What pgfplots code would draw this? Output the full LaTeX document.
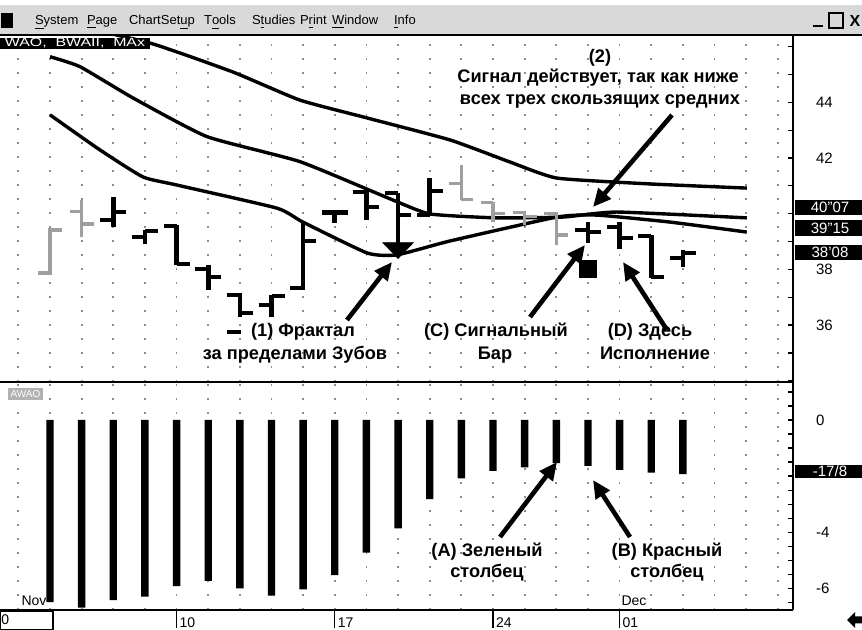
\documentclass[border=0pt]{standalone}
\usepackage{pgfplots}
\pgfplotsset{compat=1.18}
\usepackage{pgfplotstable}
\usepackage{graphicx}
\usepackage{fontspec}
\setmainfont{Liberation Sans}
\usetikzlibrary{arrows.meta}

% open tick to the left, close tick to the right
\pgfdeclareplotmark{openL}{\pgfpathmoveto{\pgfqpoint{-\pgfplotmarksize}{0pt}}\pgfpathlineto{\pgfqpoint{0pt}{0pt}}\pgfusepathqstroke}
\pgfdeclareplotmark{closeR}{\pgfpathmoveto{\pgfqpoint{\pgfplotmarksize}{0pt}}\pgfpathlineto{\pgfqpoint{0pt}{0pt}}\pgfusepathqstroke}

\pgfplotstableread{
i o h l c
2 39.77 40.61 39.53 40.05
3 39.15 39.41 38.91 39.39
4 39.56 39.59 38.16 38.19
5 38.01 38.16 37.26 37.74
6 37.08 37.14 36.30 36.42
7 36.72 37.08 36.30 37.05
8 37.32 39.71 37.26 39.03
9 40.04 40.13 39.66 40.04
10 40.79 40.91 39.77 40.25
11 40.73 40.73 38.52 39.95
12 39.95 41.28 39.95 40.83
17 39.41 39.71 38.94 39.35
18 39.53 39.71 38.72 39.12
19 39.20 39.23 37.68 37.74
20 38.40 38.70 38.10 38.58
}\darkbars

\pgfplotstableread{
i o h l c
0 37.87 39.49 37.80 39.41
1 40.07 40.49 39.16 39.63
13 41.09 41.75 40.49 40.52
14 40.40 40.43 39.71 40.01
15 40.04 40.10 39.59 39.89
16 40.01 40.07 38.88 39.23
}\greybars

\pgfplotstableread{
i v
0 -6.49
1 -6.69
2 -6.42
3 -6.30
4 -5.92
5 -5.74
6 -6.00
7 -6.26
8 -6.04
9 -5.53
10 -4.73
11 -3.86
12 -2.82
13 -2.08
14 -1.81
15 -1.69
16 -1.54
17 -1.64
18 -1.78
19 -1.88
20 -1.93
}\ao

\pgfplotsset{
  panel/.style={
    scale only axis, anchor=south west, width=396.5pt,
    xmin=-1.58, xmax=23.48,
    axis x line*=bottom, axis y line*=right,
    axis line style={-, line width=1.1pt},
    xtick={-1,0,...,23}, xticklabels={}, xmajorgrids,
    xtick style={draw=none},
    major x grid style={black!45, line width=0.9pt, dash pattern=on 0.9pt off 6.1pt},
    tick align=inside, major tick length=2.5pt,
    ytick style={black, line width=0.6pt},
    yticklabel style={font=\fontsize{7.5}{8}\selectfont, xshift=8pt},
  },
  ohlc/.style 2 args={draw=none, mark=none,
    error bars/y dir=minus, error bars/y explicit, error bars/error mark=none,
    error bars/error bar style={line width=#1, draw=#2, solid}},
}

\newcommand{\ann}{\bfseries\fontsize{9.1}{10}\selectfont}

\begin{document}
\begin{tikzpicture}
\useasboundingbox (0,0) rectangle (431pt,315pt);
\fill[white] (0,0) rectangle (431pt,315pt);

% price panel
\begin{axis}[panel, at={(0pt,124pt)}, height=173.5pt,
  ymin=33.955, ymax=46.42,
  ytick={34,...,46}, yticklabels={,,36,,38,,,,42,,44,,}]
  \addplot[black, line width=1.7pt, smooth, tension=0.3] coordinates {
    (0,46.96) (3.16,46.13) (5.78,45.09) (7.90,44.08) (10.02,43.44) (12.64,42.65)
    (14.53,41.86) (16.02,41.28) (18.96,41.07) (22.02,40.92)};
  \addplot[black, line width=1.7pt, smooth, tension=0.3] coordinates {
    (0,45.64) (0.95,45.28) (2.62,44.16) (4.96,42.77) (7.90,41.87) (10.84,40.49)
    (12.01,39.99) (14.12,39.85) (16.21,39.88) (17.91,40.06) (22.02,39.85)};
  \addplot[black, line width=1.7pt, smooth, tension=0.3] coordinates {
    (0,43.55) (1.58,42.29) (2.94,41.32) (4.01,41.03) (7.17,40.20) (7.99,39.70)
    (10.02,38.59) (10.96,38.52) (12.64,39.02) (16.02,39.88) (17.28,39.95)
    (19.59,39.70) (22.02,39.34)};
  % high-low, open, close
  \addplot[ohlc={2.3pt}{black}] table[x=i, y=h, y error minus expr=\thisrow{h}-\thisrow{l}] {\darkbars};
  \addplot[only marks, mark=openL, mark size=6.5pt, line width=2.1pt, black] table[x=i, y=o] {\darkbars};
  \addplot[only marks, mark=closeR, mark size=6.5pt, line width=2.1pt, black] table[x=i, y=c] {\darkbars};
  \addplot[ohlc={1.7pt}{gray!75}] table[x=i, y=h, y error minus expr=\thisrow{h}-\thisrow{l}] {\greybars};
  \addplot[only marks, mark=openL, mark size=6pt, line width=1.7pt, gray!75] table[x=i, y=o] {\greybars};
  \addplot[only marks, mark=closeR, mark size=6pt, line width=1.7pt, gray!75] table[x=i, y=c] {\greybars};
  % fractal, signal marks
  \addplot[only marks, mark=triangle*, mark size=8.7pt, black,
    mark options={rotate=180, yscale=0.6}] coordinates {(11,38.77)};
  \addplot[only marks, mark=square*, mark size=4.25pt, black] coordinates {(17,38.03)};
  \addplot[only marks, mark=-, mark size=3.5pt, line width=2.2pt, black] coordinates {(5.8,35.76)};
\end{axis}

% oscillator panel
\begin{axis}[panel, at={(0pt,10pt)}, height=114pt,
  ymin=-6.774, ymax=1.355,
  ytick={-6.5,-6,...,1}, yticklabels={,-6,,,,-4,,,,,,,,0,,},
  extra x ticks={4,9,14,18}, extra x tick labels={10,17,24,01},
  extra x tick style={grid=none, tick align=outside, major tick length=9pt,
    xtick style={draw=black, line width=0.6pt},
    xticklabel style={anchor=north west, xshift=-2pt, yshift=8.8pt, font=\fontsize{7}{8}\selectfont}}]
  \addplot[ybar, bar width=3.7pt, fill=black, draw=none] table[x=i, y=v] {\ao};
\end{axis}

\begin{scope}[x=0.5pt, y=-0.5pt, shift={(0pt,315pt)}]
  % menu bar
  \fill[gray!30] (0,5) rectangle (862,34);
  \draw[line width=1.2pt] (0,35) -- (862,35);
  \fill[black] (1,13) rectangle (13,28);
  \begin{scope}[every node/.style={font=\fontsize{6.5}{7}\selectfont, anchor=base west}]
    \node at (28,25) {\underline{S}ystem};
    \node at (80,25) {\underline{P}age};
    \node at (122,25) {ChartSet\underline{u}p};
    \node at (197,25) {T\underline{o}ols};
    \node at (245,25) {S\underline{t}udies};
    \node at (293,25) {P\underline{r}int};
    \node at (325,25) {\underline{W}indow};
    \node at (387,25) {\underline{I}nfo};
  \end{scope}
  \draw[line width=1.2pt] (813,26) -- (823,26);
  \draw[line width=0.8pt] (829,13) rectangle (843,28);
  \node[font=\bfseries\fontsize{8}{8}\selectfont] at (855,21) {X};
  % study labels
  \fill[black] (0,38) rectangle (150,49);
  \node[white] at (75,43.5) {\resizebox{70pt}{4.2pt}{WAO,\ \ BWAII,\ \ MAx}};
  \fill[gray!60] (8,388) rectangle (43,400);
  \node[white, font=\fontsize{5}{5}\selectfont] at (25.5,394) {AWAO};
  % last value boxes
  \fill[black] (795,200) rectangle (862,215);
  \fill[black] (795,220) rectangle (862,236);
  \fill[black] (795,245) rectangle (862,260);
  \fill[black] (795,465) rectangle (862,478);
  \begin{scope}[every node/.style={white, font=\fontsize{7.5}{8}\selectfont}]
    \node at (830,207.5) {40"07};
    \node at (830,228) {39"15};
    \node at (830,252.5) {38'08};
    \node at (830,471.5) {-17/8};
  \end{scope}
  % dates
  \node[font=\fontsize{7}{8}\selectfont] at (34,601) {Nov};
  \node[font=\fontsize{7}{8}\selectfont] at (634,601) {Dec};
  \fill[white] (0,611) rectangle (53,630);
  \draw[line width=0.6pt] (0,611) rectangle (53,630);
  \node[font=\fontsize{7}{8}\selectfont, anchor=west, inner sep=0pt] at (1,620) {0};
  \fill (847,620) -- (855,612) -- (855,616.5) -- (862,616.5) -- (862,623.5) -- (855,623.5) -- (855,628) -- cycle;
  % annotations
  \begin{scope}[every node/.style={font=\ann, anchor=base}]
    \node at (600,63) {(2)};
    \node at (598,83) {Сигнал действует, так как ниже};
    \node at (600,105) {всех трех скользящих средних};
    \node at (303,337) {(1) Фрактал};
    \node at (295,360) {за пределами Зубов};
    \node at (496,337) {(C) Сигнальный};
    \node at (495,360) {Бар};
    \node at (650,337) {(D) Здесь};
    \node at (655,360) {Исполнение};
    \node at (487,557) {(A) Зеленый};
    \node at (487,578) {столбец};
    \node at (667,557) {(B) Красный};
    \node at (667,578) {столбец};
  \end{scope}
  \begin{scope}[line width=2.3pt, -{Triangle[length=9pt, width=8pt]}]
    \draw (347,320) -- (392,262);
    \draw (672,115) -- (593,207);
    \draw (530,317) -- (585,245);
    \draw (667,330) -- (623,262);
    \draw (500,537) -- (557,462);
    \draw (630,537) -- (593,480);
  \end{scope}
\end{scope}
\end{tikzpicture}
\end{document}
